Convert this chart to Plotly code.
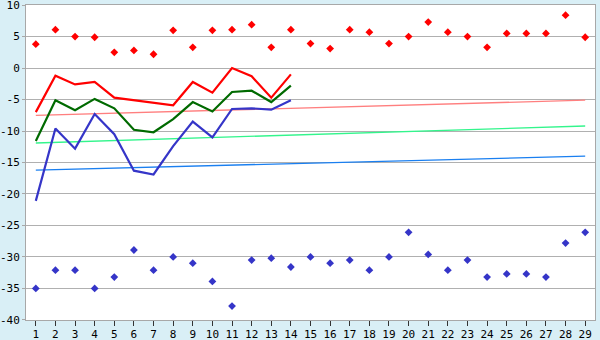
import plotly.graph_objects as go

days = list(range(1, 30))

red_points = [3.8, 6.1, 5.0, 4.9, 2.5, 2.8, 2.2, 6.0, 3.3, 6.0, 6.1, 6.9, 3.3, 6.1, 3.9,
              3.1, 6.1, 5.7, 3.9, 5.0, 7.3, 5.7, 5.0, 3.3, 5.5, 5.5, 5.5, 8.4, 4.9]
blue_points = [-35.0, -32.1, -32.1, -35.0, -33.2, -28.9, -32.1, -30.0, -31.0, -33.9, -37.8,
               -30.5, -30.2, -31.6, -30.0, -31.0, -30.5, -32.1, -30.0, -26.1, -29.6, -32.1,
               -30.5, -33.2, -32.7, -32.7, -33.2, -27.8, -26.1]

line_days = list(range(1, 15))
red_line = [-7.0, -1.2, -2.6, -2.2, -4.7, -5.1, -5.4, -5.9, -2.2, -3.9, 0.0, -1.3, -4.7, -1.0]
green_line = [-11.6, -5.1, -6.7, -4.9, -6.4, -9.8, -10.2, -8.1, -5.4, -6.9, -3.8, -3.6, -5.4, -2.8]
blue_line = [-21.1, -9.6, -12.8, -7.3, -10.5, -16.3, -16.9, -12.4, -8.5, -11.0, -6.5, -6.4, -6.6, -5.1]

trend_days = [1, 29]
red_trend = [-7.5, -5.1]
green_trend = [-11.9, -9.2]
blue_trend = [-16.2, -14.0]

y_ticks = [10, 5, 0, -5, -10, -15, -20, -25, -30, -35, -40]
y_labels = ["10", "5", "0", "-5", "-10", "-15", "-20", "-25", "-30", "-35", "-40"]

fig = go.Figure()

# trend lines
fig.add_trace(go.Scatter(x=trend_days, y=red_trend, mode="lines",
                         line=dict(color="#FF7F7F", width=1.3)))
fig.add_trace(go.Scatter(x=trend_days, y=green_trend, mode="lines",
                         line=dict(color="#33F58C", width=1.3)))
fig.add_trace(go.Scatter(x=trend_days, y=blue_trend, mode="lines",
                         line=dict(color="#1A7FF0", width=1.3)))

# main lines
fig.add_trace(go.Scatter(x=line_days, y=red_line, mode="lines",
                         line=dict(color="#FF0000", width=2.2)))
fig.add_trace(go.Scatter(x=line_days, y=green_line, mode="lines",
                         line=dict(color="#006A00", width=2.2)))
fig.add_trace(go.Scatter(x=line_days, y=blue_line, mode="lines",
                         line=dict(color="#3535C8", width=2.2)))

# points
fig.add_trace(go.Scatter(x=days, y=red_points, mode="markers",
                         marker=dict(symbol="diamond", size=6, color="#FF0000", line=dict(width=0))))
fig.add_trace(go.Scatter(x=days, y=blue_points, mode="markers",
                         marker=dict(symbol="diamond", size=6, color="#3535C8", line=dict(width=0))))

font = dict(family="DejaVu Sans Mono", size=11, color="#000000")

fig.update_layout(
    width=600, height=340,
    margin=dict(l=26, r=5, t=5, b=20, autoexpand=False),
    paper_bgcolor="#D9EFF6",
    plot_bgcolor="#FFFFFF",
    showlegend=False,
    font=font,
    xaxis=dict(
        range=[0.5, 29.5], tickmode="array", tickvals=days,
        ticktext=[str(d) for d in days],
        showgrid=False, zeroline=False, automargin=False,
        showline=True, linecolor="#A8A8A8", linewidth=1, mirror=True,
        ticks="outside", ticklen=5, tickcolor="#333333", tickwidth=1,
        tickfont=font, ticklabeloverflow="allow", ticklabelstandoff=-1,
    ),
    yaxis=dict(
        range=[-40.02, 10.02], tickmode="array", tickvals=y_ticks, ticktext=y_labels,
        showgrid=True, gridcolor="#B0B0B0", gridwidth=1, zeroline=False, automargin=False,
        showline=True, linecolor="#A8A8A8", linewidth=1, mirror=True,
        ticks="outside", ticklen=3, tickcolor="#A8A8A8", tickwidth=1,
        tickfont=font, ticklabeloverflow="allow",
    ),
)

fig.write_html("out.html")
